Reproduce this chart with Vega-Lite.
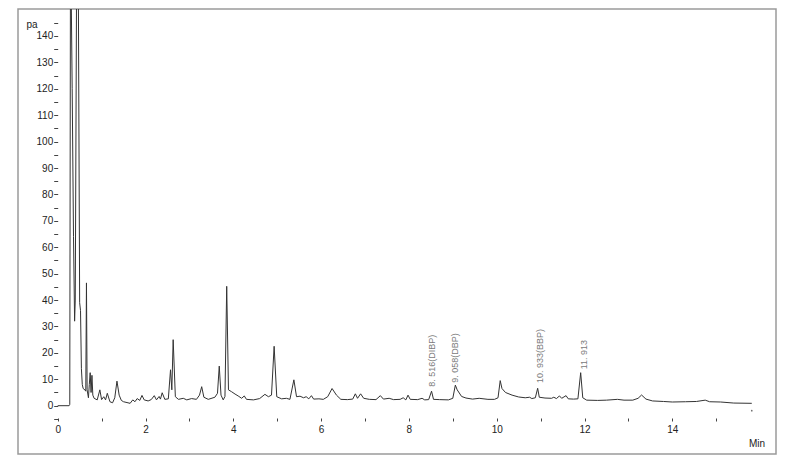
{
  "$schema": "https://vega.github.io/schema/vega-lite/v6.json",
  "width": 758,
  "height": 445,
  "autosize": {"type": "none"},
  "padding": {"left": 18, "top": 9, "right": 24, "bottom": 11},
  "background": "white",
  "config": {
    "view": {"stroke": "#9a9a9a", "strokeWidth": 1.5},
    "font": "Liberation Sans",
    "axis": {"grid": false, "domain": false, "tickColor": "#444", "labelColor": "#222", "labelFont": "Liberation Sans", "labelFontSize": 10, "title": null, "labelOverlap": false, "labelBound": false, "labelFlush": false, "format": "d"}
  },
  "datasets": {
    "trace": [
      {"t": 0, "v": 0}, {"t": 0.26, "v": 0}, {"t": 0.275, "v": 0.5}, {"t": 0.29, "v": 160}, {"t": 0.305, "v": 160},
      {"t": 0.33, "v": 120}, {"t": 0.36, "v": 64}, {"t": 0.385, "v": 32}, {"t": 0.4, "v": 40}, {"t": 0.43, "v": 160},
      {"t": 0.47, "v": 160}, {"t": 0.5, "v": 39}, {"t": 0.52, "v": 36}, {"t": 0.54, "v": 14}, {"t": 0.56, "v": 8},
      {"t": 0.58, "v": 6.5}, {"t": 0.62, "v": 6}, {"t": 0.64, "v": 5.5}, {"t": 0.655, "v": 46.5}, {"t": 0.67, "v": 6},
      {"t": 0.7, "v": 3}, {"t": 0.72, "v": 8}, {"t": 0.74, "v": 12.5}, {"t": 0.76, "v": 5}, {"t": 0.78, "v": 11.5},
      {"t": 0.8, "v": 4}, {"t": 0.83, "v": 2.8}, {"t": 0.9, "v": 2.2}, {"t": 0.96, "v": 6}, {"t": 1.0, "v": 2.3},
      {"t": 1.05, "v": 3.4}, {"t": 1.09, "v": 2.2}, {"t": 1.13, "v": 4.7}, {"t": 1.19, "v": 1.5}, {"t": 1.25, "v": 1.1},
      {"t": 1.3, "v": 3}, {"t": 1.35, "v": 9.3}, {"t": 1.4, "v": 4}, {"t": 1.45, "v": 2}, {"t": 1.5, "v": 1.5},
      {"t": 1.65, "v": 0.9}, {"t": 1.71, "v": 2.2}, {"t": 1.76, "v": 1.5}, {"t": 1.81, "v": 2.7}, {"t": 1.87, "v": 2},
      {"t": 1.92, "v": 3.9}, {"t": 1.97, "v": 2.2}, {"t": 2.06, "v": 1.8}, {"t": 2.13, "v": 2.3}, {"t": 2.2, "v": 3.8},
      {"t": 2.25, "v": 2.2}, {"t": 2.31, "v": 3.5}, {"t": 2.34, "v": 2.5}, {"t": 2.38, "v": 4.9}, {"t": 2.44, "v": 2.4},
      {"t": 2.52, "v": 2.6}, {"t": 2.57, "v": 13.6}, {"t": 2.6, "v": 6}, {"t": 2.63, "v": 25}, {"t": 2.68, "v": 3.4},
      {"t": 2.75, "v": 2.4}, {"t": 2.86, "v": 2.8}, {"t": 2.94, "v": 2.2}, {"t": 3.05, "v": 2.7}, {"t": 3.16, "v": 2.4},
      {"t": 3.23, "v": 4}, {"t": 3.28, "v": 7.2}, {"t": 3.33, "v": 3.2}, {"t": 3.43, "v": 2.4}, {"t": 3.58, "v": 3.2},
      {"t": 3.64, "v": 4.7}, {"t": 3.68, "v": 15}, {"t": 3.72, "v": 4}, {"t": 3.77, "v": 2.2}, {"t": 3.81, "v": 3.5},
      {"t": 3.85, "v": 45.2}, {"t": 3.89, "v": 6}, {"t": 3.96, "v": 5.3}, {"t": 4.04, "v": 4.4}, {"t": 4.11, "v": 3.7},
      {"t": 4.19, "v": 2.8}, {"t": 4.25, "v": 3.7}, {"t": 4.3, "v": 2.4}, {"t": 4.46, "v": 2.2}, {"t": 4.6, "v": 2.7},
      {"t": 4.72, "v": 4.3}, {"t": 4.8, "v": 3.4}, {"t": 4.87, "v": 4}, {"t": 4.93, "v": 22.5}, {"t": 4.99, "v": 3.4},
      {"t": 5.1, "v": 2.6}, {"t": 5.21, "v": 2.8}, {"t": 5.29, "v": 2.4}, {"t": 5.38, "v": 9.8}, {"t": 5.44, "v": 3.4},
      {"t": 5.52, "v": 3.6}, {"t": 5.6, "v": 3}, {"t": 5.66, "v": 3.4}, {"t": 5.72, "v": 2.6}, {"t": 5.78, "v": 3.8},
      {"t": 5.83, "v": 2.5}, {"t": 5.95, "v": 2.6}, {"t": 6.05, "v": 2.4}, {"t": 6.15, "v": 3.4}, {"t": 6.25, "v": 6.5},
      {"t": 6.35, "v": 4}, {"t": 6.45, "v": 2.4}, {"t": 6.6, "v": 2.3}, {"t": 6.72, "v": 2.5}, {"t": 6.78, "v": 4.5},
      {"t": 6.83, "v": 2.8}, {"t": 6.9, "v": 4.5}, {"t": 6.97, "v": 2.8}, {"t": 7.1, "v": 2.4}, {"t": 7.25, "v": 2.3},
      {"t": 7.35, "v": 3.8}, {"t": 7.42, "v": 2.5}, {"t": 7.55, "v": 2.8}, {"t": 7.65, "v": 2.3}, {"t": 7.8, "v": 2.4},
      {"t": 7.87, "v": 3}, {"t": 7.93, "v": 2.2}, {"t": 7.98, "v": 4}, {"t": 8.03, "v": 2.4}, {"t": 8.2, "v": 2.3},
      {"t": 8.3, "v": 2.8}, {"t": 8.36, "v": 2.2}, {"t": 8.45, "v": 2.3}, {"t": 8.516, "v": 5.5}, {"t": 8.56, "v": 2.4},
      {"t": 8.7, "v": 2.3}, {"t": 8.9, "v": 2.2}, {"t": 9.0, "v": 2.8}, {"t": 9.058, "v": 7.8}, {"t": 9.1, "v": 6},
      {"t": 9.2, "v": 3.5}, {"t": 9.3, "v": 2.9}, {"t": 9.45, "v": 2.5}, {"t": 9.6, "v": 2.8}, {"t": 9.8, "v": 2.4},
      {"t": 9.95, "v": 2.4}, {"t": 10.03, "v": 3}, {"t": 10.08, "v": 9.5}, {"t": 10.12, "v": 6.5}, {"t": 10.2, "v": 5},
      {"t": 10.35, "v": 4}, {"t": 10.5, "v": 3.3}, {"t": 10.65, "v": 3}, {"t": 10.75, "v": 3.2}, {"t": 10.8, "v": 2.7},
      {"t": 10.88, "v": 3}, {"t": 10.933, "v": 6.6}, {"t": 10.97, "v": 3.2}, {"t": 11.1, "v": 2.9}, {"t": 11.25, "v": 2.8},
      {"t": 11.3, "v": 3.2}, {"t": 11.36, "v": 2.7}, {"t": 11.43, "v": 3.7}, {"t": 11.48, "v": 2.8}, {"t": 11.58, "v": 3.8},
      {"t": 11.63, "v": 2.6}, {"t": 11.75, "v": 2.5}, {"t": 11.85, "v": 2.6}, {"t": 11.913, "v": 12.5}, {"t": 11.96, "v": 3},
      {"t": 12.05, "v": 2.1}, {"t": 12.3, "v": 2.0}, {"t": 12.5, "v": 2.1}, {"t": 12.75, "v": 2.4}, {"t": 12.9, "v": 2.1},
      {"t": 13.1, "v": 2.1}, {"t": 13.22, "v": 2.8}, {"t": 13.3, "v": 4.05}, {"t": 13.4, "v": 2.5}, {"t": 13.55, "v": 1.8},
      {"t": 13.8, "v": 1.6}, {"t": 14.0, "v": 1.4}, {"t": 14.3, "v": 1.5}, {"t": 14.55, "v": 1.6}, {"t": 14.75, "v": 2.1},
      {"t": 14.85, "v": 1.5}, {"t": 15.1, "v": 1.4}, {"t": 15.4, "v": 1.0}, {"t": 15.81, "v": 0.9}
    ],
    "labels": [
      {"t": 8.52, "v": 7.2, "text": "8. 516(DIBP)"},
      {"t": 9.05, "v": 8.7, "text": "9. 058(DBP)"},
      {"t": 10.98, "v": 8.6, "text": "10. 933(BBP)"},
      {"t": 11.98, "v": 13.8, "text": "11. 913"}
    ],
    "dots": [{"t": 15.81, "v": -1.9}],
    "titles": [
      {"t": -0.585, "v": 144.1, "text": "pa"},
      {"t": 15.93, "v": -14.5, "text": "Min"}
    ]
  },
  "layer": [
    {
      "data": {"name": "trace"},
      "mark": {"type": "line", "color": "#333333", "strokeWidth": 1, "clip": true, "interpolate": "linear"},
      "encoding": {
        "x": {"field": "t", "type": "quantitative",
              "scale": {"domain": [-0.9043, 16.362], "nice": false, "zero": false},
              "axis": {"values": [0,1,2,3,4,5,6,7,8,9,10,11,12,13,14,15], "tickCount": 200, "offset": -36, "tickSize": 3, "labelPadding": 3, "format": "d",
                       "labelExpr": "datum.value % 2 === 0 ? datum.label : ''"}},
        "y": {"field": "v", "type": "quantitative",
              "scale": {"domain": [-18.29, 150.21], "nice": false, "zero": false},
              "axis": {"values": [-5,0,5,10,15,20,25,30,35,40,45,50,55,60,65,70,75,80,85,90,95,100,105,110,115,120,125,130,135,140,145],
                       "tickCount": 200, "offset": -39.7, "tickSize": 4, "labelPadding": 1, "format": "d",
                       "labelExpr": "datum.value >= 0 && datum.value % 10 === 0 ? datum.label : ''"}}
      }
    },
    {
      "mark": {"type": "rule", "color": "#555555", "strokeWidth": 1},
      "encoding": {"x": {"datum": 0}, "y": {"datum": -5}, "y2": {"datum": 149}}
    },
    {
      "mark": {"type": "rule", "color": "#555555", "strokeWidth": 1},
      "encoding": {"x": {"datum": 0}, "x2": {"datum": 16.34}, "y": {"datum": -5}}
    },
    {
      "data": {"name": "labels"},
      "mark": {"type": "text", "angle": 270, "align": "left", "baseline": "middle", "fontSize": 9, "color": "#7a7a7a", "font": "Liberation Sans"},
      "encoding": {"x": {"field": "t", "type": "quantitative"}, "y": {"field": "v", "type": "quantitative"}, "text": {"field": "text"}}
    },
    {
      "data": {"name": "dots"},
      "mark": {"type": "point", "filled": true, "size": 3, "color": "#333333"},
      "encoding": {"x": {"field": "t", "type": "quantitative"}, "y": {"field": "v", "type": "quantitative"}}
    },
    {
      "data": {"name": "titles"},
      "mark": {"type": "text", "align": "center", "baseline": "middle", "fontSize": 10, "color": "#222222", "font": "Liberation Sans"},
      "encoding": {"x": {"field": "t", "type": "quantitative"}, "y": {"field": "v", "type": "quantitative"}, "text": {"field": "text"}}
    }
  ]
}
